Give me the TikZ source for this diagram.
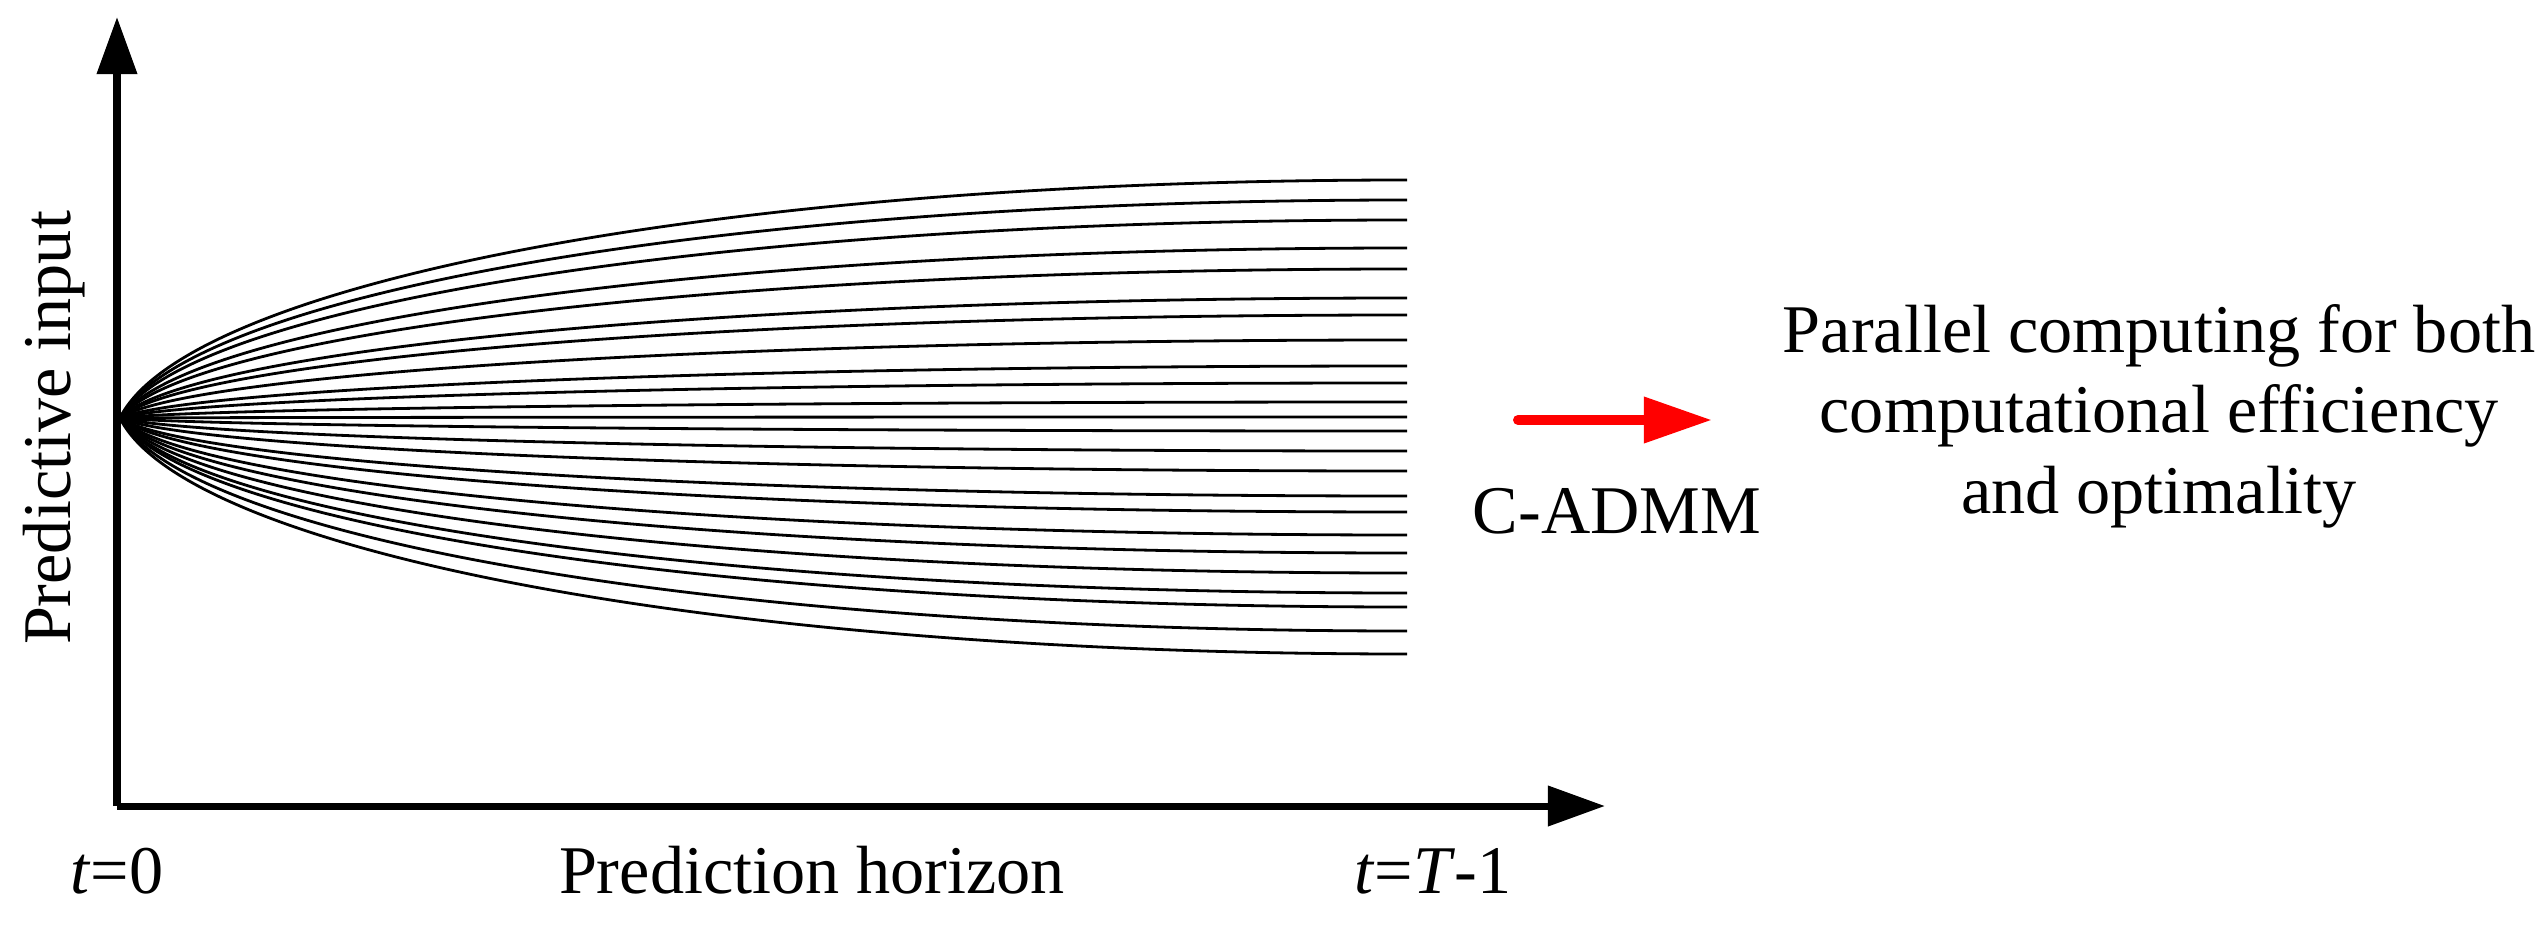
\documentclass[tikz,border=0pt]{standalone}
\usepackage{fontspec}
\setmainfont{Liberation Serif}
\usepackage{tikz}
\usetikzlibrary{calc}
\usetikzlibrary{arrows.meta}
\usetikzlibrary{positioning}

\tikzset{
	lbl/.style={font=\fontsize{19.4}{22.8}\selectfont, inner sep=0pt},
	axisline/.style={line width=0.07cm, -{Triangle[length=0.57cm,width=0.39cm]}},
	trajline/.style={line width=0.028cm}
}

\begin{document}
\begin{tikzpicture}[x=0.01cm, y=0.01cm]
		\useasboundingbox (0, 0) rectangle (2547, 929);
		% axes
		\coordinate (O) at (117, 123);
		\coordinate (ytip) at (117, 912);
		\coordinate (xtip) at (1605, 123);
		\draw[axisline] (O) -- (ytip);
		\draw[axisline] (O) -- (xtip);
		% predicted trajectories
		\coordinate (start) at (120, 511);
		\foreach \d in {238, 218, 198, 170, 149, 120, 103, 78, 52, 35, 16, 1, -13, -33, -53, -78, -94, -117, -135, -155, -175, -189, -213, -236}
			\draw[trajline] (start) .. controls ($(start)+(64, 0.55*\d)$) and ($(start)+(579, \d)$) .. ($(start)+(1287, \d)$);
		% labels
		\node[lbl, rotate=90, anchor=base] (ylabel) at (71, 501) {Predictive input};
		\node[lbl, anchor=base] (tzero) at (117, 36) {\textit{t}=0};
		\node[lbl, anchor=base] (horizon) at (812, 36) {Prediction horizon};
		\node[lbl, anchor=base] (tend) at (1433, 36) {\textit{t}=\textit{T}-1};
		% red arrow
		\coordinate (redtail) at (1518, 509);
		\coordinate (redtip) at (1712, 509);
		\draw[red, line width=0.1cm, line cap=round, -{Triangle[length=0.68cm,width=0.44cm]}] (redtail) -- (redtip);
		\node[lbl, anchor=base] (admm) at (1617, 396) {C-ADMM};
		\node[lbl, align=center, anchor=base] (result) at (2159, 416) {Parallel computing for both\\computational efficiency\\and optimality};
	\end{tikzpicture}
\end{document}
